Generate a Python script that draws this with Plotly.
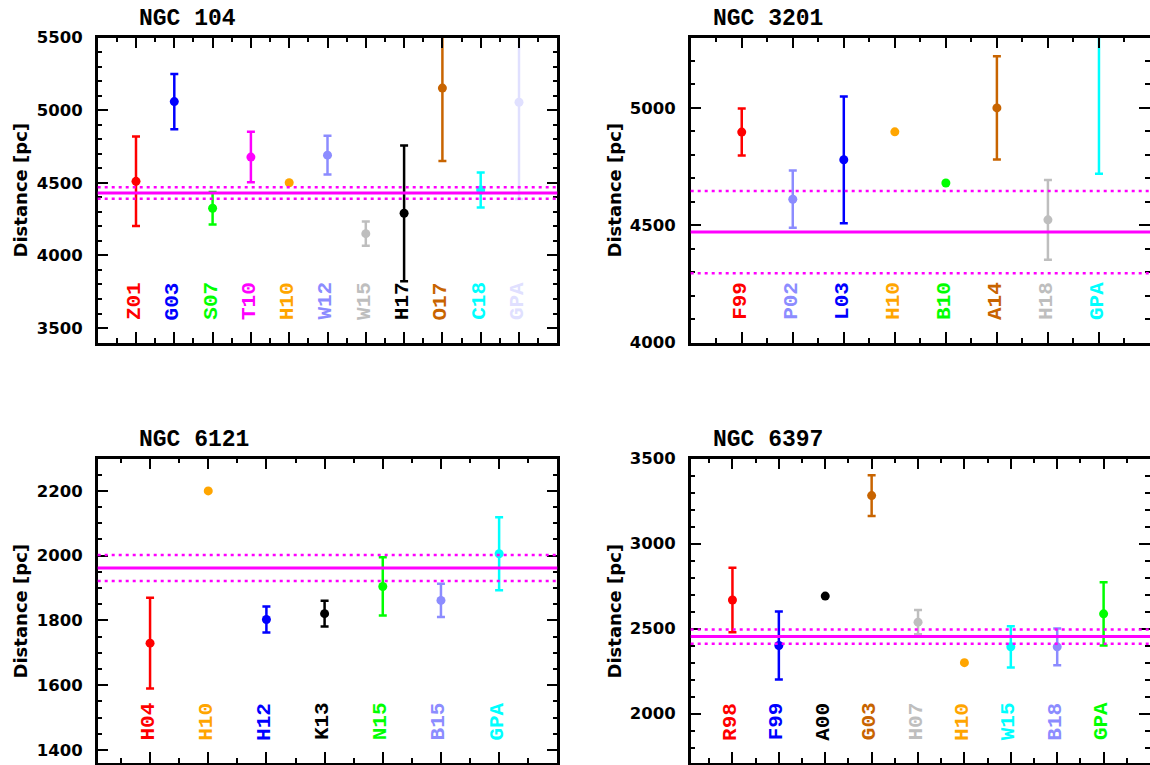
import plotly.graph_objects as go

W, H = 1150, 765

# ---------------- data ----------------
# NGC 104
p1_title = "NGC 104"
p1_names = ["Z01", "G03", "S07", "T10", "H10", "W12", "W15", "H17", "O17", "C18", "GPA"]
p1_colors = ["#ff0000", "#0000ff", "#00ff00", "#ff00ff", "#ffa500", "#8c8cff",
             "#bebebe", "#000000", "#c86400", "#00ffff", "#e0e0ff"]
p1_dist = [4510, 5059, 4325, 4677, 4500, 4690, 4150, 4290, 5152, 4450, 5054]
p1_err = [308, 190, 112, 174, None, 133, 84, 467, 502, 120, 665]
p1_mean, p1_mean_err = 4430, 40
p1_yrange = [3400, 5500]
p1_ydtick, p1_yminor = 500, 100

# NGC 3201
p2_title = "NGC 3201"
p2_names = ["F99", "P02", "L03", "H10", "B10", "A14", "H18", "GPA"]
p2_colors = ["#ff0000", "#8c8cff", "#0000ff", "#ffa500", "#00ff00", "#c86400",
             "#bebebe", "#00ffff"]
p2_dist = [4897, 4611, 4779, 4898, 4680, 5000, 4523, 5650]
p2_err = [100, 122, 270, None, None, 220, 170, 931]
p2_mean, p2_mean_err = 4471, 175
p2_yrange = [4000, 5300]
p2_ydtick, p2_yminor = 500, 100

# NGC 6121
p3_title = "NGC 6121"
p3_names = ["H04", "H10", "H12", "K13", "N15", "B15", "GPA"]
p3_colors = ["#ff0000", "#ffa500", "#0000ff", "#000000", "#00ff00", "#8c8cff", "#00ffff"]
p3_dist = [1730, 2200, 1803, 1821, 1905, 1862, 2006]
p3_err = [140, None, 40, 40, 90, 51, 113]
p3_mean, p3_mean_err = 1962, 40
p3_yrange = [1360, 2300]
p3_ydtick, p3_yminor = 200, 50

# NGC 6397
p4_title = "NGC 6397"
p4_names = ["R98", "F99", "A00", "G03", "H07", "H10", "W15", "B18", "GPA"]
p4_colors = ["#ff0000", "#0000ff", "#000000", "#c86400", "#bebebe", "#ffa500",
             "#00ffff", "#8c8cff", "#00ff00"]
p4_dist = [2668, 2401, 2691, 3282, 2538, 2300, 2393, 2393, 2587]
p4_err = [190, 200, None, 120, 71, None, 121, 108, 186]
p4_mean, p4_mean_err = 2453, 42
p4_yrange = [1710, 3500]
p4_ydtick, p4_yminor = 500, 100

y_title = "Distance [pc]"

# ---------------- layout geometry (pixels) ----------------
panels = [
    dict(title=p1_title, names=p1_names, colors=p1_colors, dist=p1_dist, err=p1_err,
         mean=p1_mean, merr=p1_mean_err, yrange=p1_yrange, ydt=p1_ydtick, ymin=p1_yminor,
         xr=[0, len(p1_names) + 1], box=(97.7, 557.3, 37.5, 342.6),
         tpos=(137, 19), ytpos=(19.5, 190)),
    dict(title=p2_title, names=p2_names, colors=p2_colors, dist=p2_dist, err=p2_err,
         mean=p2_mean, merr=p2_mean_err, yrange=p2_yrange, ydt=p2_ydtick, ymin=p2_yminor,
         xr=[0, len(p2_names) + 1], box=(690.7, 1150, 37.5, 342.6),
         tpos=(710.5, 19), ytpos=(613.5, 190)),
    dict(title=p3_title, names=p3_names, colors=p3_colors, dist=p3_dist, err=p3_err,
         mean=p3_mean, merr=p3_mean_err, yrange=p3_yrange, ydt=p3_ydtick, ymin=p3_yminor,
         xr=[0.1, len(p3_names) + 1], box=(97.7, 557.3, 458.5, 763.0),
         tpos=(137, 440.5), ytpos=(19.5, 611)),
    dict(title=p4_title, names=p4_names, colors=p4_colors, dist=p4_dist, err=p4_err,
         mean=p4_mean, merr=p4_mean_err, yrange=p4_yrange, ydt=p4_ydtick, ymin=p4_yminor,
         xr=[0.1, len(p4_names) + 1], box=(690.7, 1150, 458.5, 763.0),
         tpos=(710.5, 440.5), ytpos=(613.5, 611)),
]

fig = go.Figure()
layout = {}

tick_font = dict(family="DejaVu Sans", size=16.5, color="black", weight="bold")

for i, p in enumerate(panels, start=1):
    xa = "x" if i == 1 else f"x{i}"
    ya = "y" if i == 1 else f"y{i}"
    xl = "xaxis" if i == 1 else f"xaxis{i}"
    yl = "yaxis" if i == 1 else f"yaxis{i}"
    x0, x1, yt, yb = p["box"]
    common = dict(showline=True, linecolor="black", linewidth=2.5, mirror="ticks",
                  ticks="inside", tickcolor="black", tickwidth=2, ticklen=11,
                  showgrid=False, zeroline=False, automargin=False, fixedrange=True)
    layout[xl] = dict(common, domain=[x0 / W, min(x1 / W, 1.0)], anchor=ya,
                      range=p["xr"], tickmode="linear", tick0=0, dtick=1,
                      showticklabels=False,
                      minor=dict(ticks="inside", ticklen=5, tickwidth=2,
                                 tickcolor="black", dtick=0.5, tick0=0, showgrid=False))
    layout[yl] = dict(common, domain=[1 - yb / H, 1 - yt / H], anchor=xa,
                      range=p["yrange"], tickmode="linear", tick0=0, dtick=p["ydt"],
                      tickfont=tick_font, ticklabelstandoff=9,
                      minor=dict(ticks="inside", ticklen=5, tickwidth=2,
                                 tickcolor="black", dtick=p["ymin"], tick0=0, showgrid=False))

    for k, (nm, c, d, e) in enumerate(zip(p["names"], p["colors"], p["dist"], p["err"]), start=1):
        fig.add_trace(go.Scatter(
            x=[k], y=[d], mode="markers", xaxis=xa, yaxis=ya, showlegend=False,
            marker=dict(color=c, size=9, line=dict(width=0)),
            error_y=dict(type="data", array=[e if e is not None else 0],
                         visible=e is not None, color=c, thickness=2.5, width=4),
            cliponaxis=True, hoverinfo="skip"))
        fig.add_annotation(x=k, y=20.5 / (yb - yt), xref=xa, yref=f"{ya} domain",
                           text=nm, textangle=-90, showarrow=False,
                           xanchor="center", yanchor="bottom", xshift=-2,
                           font=dict(family="Liberation Mono", size=21, color=c, weight="bold"))

    # mean value and its uncertainty
    fig.add_shape(type="line", xref=f"{xa} domain", yref=ya, x0=0, x1=1,
                  y0=p["mean"], y1=p["mean"], line=dict(color="#ff00ff", width=3))
    for s in (-1, 1):
        yv = p["mean"] + s * p["merr"]
        fig.add_shape(type="line", xref=f"{xa} domain", yref=ya, x0=0, x1=1,
                      y0=yv, y1=yv, line=dict(color="#ff00ff", width=2.5, dash="3px,4px"))

    # panel title
    fig.add_annotation(x=p["tpos"][0] / W, y=1 - p["tpos"][1] / H, xref="paper", yref="paper",
                       text=p["title"], showarrow=False, xanchor="left", yanchor="middle",
                       font=dict(family="Liberation Mono", size=23, color="black", weight="bold"))
    # y-axis title
    fig.add_annotation(x=p["ytpos"][0] / W, y=1 - p["ytpos"][1] / H, xref="paper", yref="paper",
                       text=y_title, textangle=-90, showarrow=False,
                       xanchor="center", yanchor="middle",
                       font=dict(family="DejaVu Sans", size=18, color="black", weight="bold"))

fig.update_layout(
    width=W, height=H, margin=dict(l=0, r=0, t=0, b=0, pad=0),
    paper_bgcolor="white", plot_bgcolor="white", template="none",
    showlegend=False, **layout)

fig.write_html("out.html", config={"displayModeBar": False})
